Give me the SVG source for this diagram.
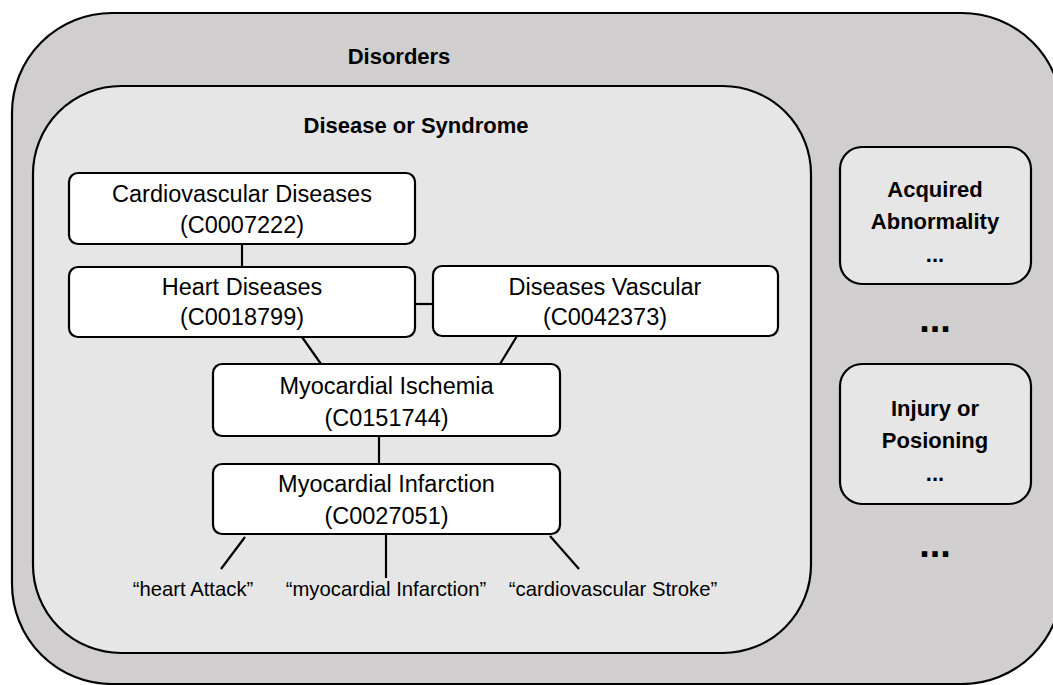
<svg xmlns="http://www.w3.org/2000/svg" width="1053" height="685" viewBox="0 0 1053 685">
  <style>
    .frame { stroke: #000; stroke-width: 2.2; }
    .outer { fill: #d0cece; }
    .inner { fill: #e7e6e6; }
    .box { fill: #fff; stroke: #000; stroke-width: 2.2; }
    .side { fill: #e7e6e6; stroke: #000; stroke-width: 2.2; }
    .link { stroke: #000; stroke-width: 2.2; fill: none; }
    text { font-family: "Liberation Sans", Arial, sans-serif; fill: #000; text-anchor: middle; }
    .title { font-weight: bold; font-size: 22px; }
    .label { font-size: 23.5px; }
    .syn { font-size: 20.3px; }
    .more { font-weight: bold; font-size: 22px; }
    .gap { font-weight: bold; font-size: 38px; }
  </style>

  <!-- semantic group containers -->
  <g id="disorders">
    <rect class="outer frame" x="12" y="13" width="1050" height="671" rx="100" ry="100"/>
    <text class="title" x="399" y="64">Disorders</text>
  </g>
  <g id="disease-or-syndrome">
    <rect class="inner frame" x="33" y="86" width="778" height="567" rx="88" ry="88"/>
    <text class="title" x="416" y="133">Disease or Syndrome</text>
  </g>

  <!-- hierarchy links -->
  <g id="connectors">
    <line class="link" x1="242" y1="244" x2="242" y2="267"/>
    <line class="link" x1="415" y1="304" x2="433" y2="304"/>
    <line class="link" x1="302" y1="337" x2="321" y2="364"/>
    <line class="link" x1="517" y1="336" x2="500" y2="364"/>
    <line class="link" x1="379" y1="436" x2="379" y2="464"/>
    <line class="link" x1="245" y1="537" x2="221" y2="569"/>
    <line class="link" x1="386" y1="534" x2="386" y2="578"/>
    <line class="link" x1="550" y1="536" x2="579" y2="569"/>
  </g>

  <!-- concepts -->
  <g id="cardiovascular-diseases">
    <rect class="box" x="69" y="173" width="346" height="71" rx="9"/>
    <text class="label" x="242" y="202">Cardiovascular Diseases</text>
    <text class="label" x="242" y="233">(C0007222)</text>
  </g>
  <g id="heart-diseases">
    <rect class="box" x="69" y="267" width="346" height="70" rx="9"/>
    <text class="label" x="242" y="295">Heart Diseases</text>
    <text class="label" x="242" y="325">(C0018799)</text>
  </g>
  <g id="diseases-vascular">
    <rect class="box" x="433" y="266" width="345" height="70" rx="9"/>
    <text class="label" x="605" y="295">Diseases Vascular</text>
    <text class="label" x="605" y="325">(C0042373)</text>
  </g>
  <g id="myocardial-ischemia">
    <rect class="box" x="213" y="364" width="347" height="72" rx="9"/>
    <text class="label" x="386.5" y="394">Myocardial Ischemia</text>
    <text class="label" x="386.5" y="426">(C0151744)</text>
  </g>
  <g id="myocardial-infarction">
    <rect class="box" x="213" y="464" width="347" height="70" rx="9"/>
    <text class="label" x="386.5" y="492">Myocardial Infarction</text>
    <text class="label" x="386.5" y="524">(C0027051)</text>
  </g>

  <!-- synonyms -->
  <g id="synonym-heart-attack">
    <text class="syn" x="193" y="596">“heart Attack”</text>
  </g>
  <g id="synonym-myocardial-infarction">
    <text class="syn" x="386" y="596">“myocardial Infarction”</text>
  </g>
  <g id="synonym-cardiovascular-stroke">
    <text class="syn" x="613" y="596">“cardiovascular Stroke”</text>
  </g>

  <!-- sibling groups -->
  <g id="acquired-abnormality">
    <rect class="side" x="840" y="147" width="191" height="137" rx="22"/>
    <text class="title" x="935" y="197">Acquired</text>
    <text class="title" x="935" y="229">Abnormality</text>
    <text class="more" x="935" y="262">...</text>
  </g>
  <g id="injury-or-poisoning">
    <rect class="side" x="840" y="364" width="191" height="140" rx="22"/>
    <text class="title" x="935" y="416">Injury or</text>
    <text class="title" x="935" y="448">Posioning</text>
    <text class="more" x="935" y="481">...</text>
  </g>
  <g id="more-groups">
    <text class="gap" x="935" y="332">...</text>
    <text class="gap" x="935" y="557">...</text>
  </g>
</svg>
